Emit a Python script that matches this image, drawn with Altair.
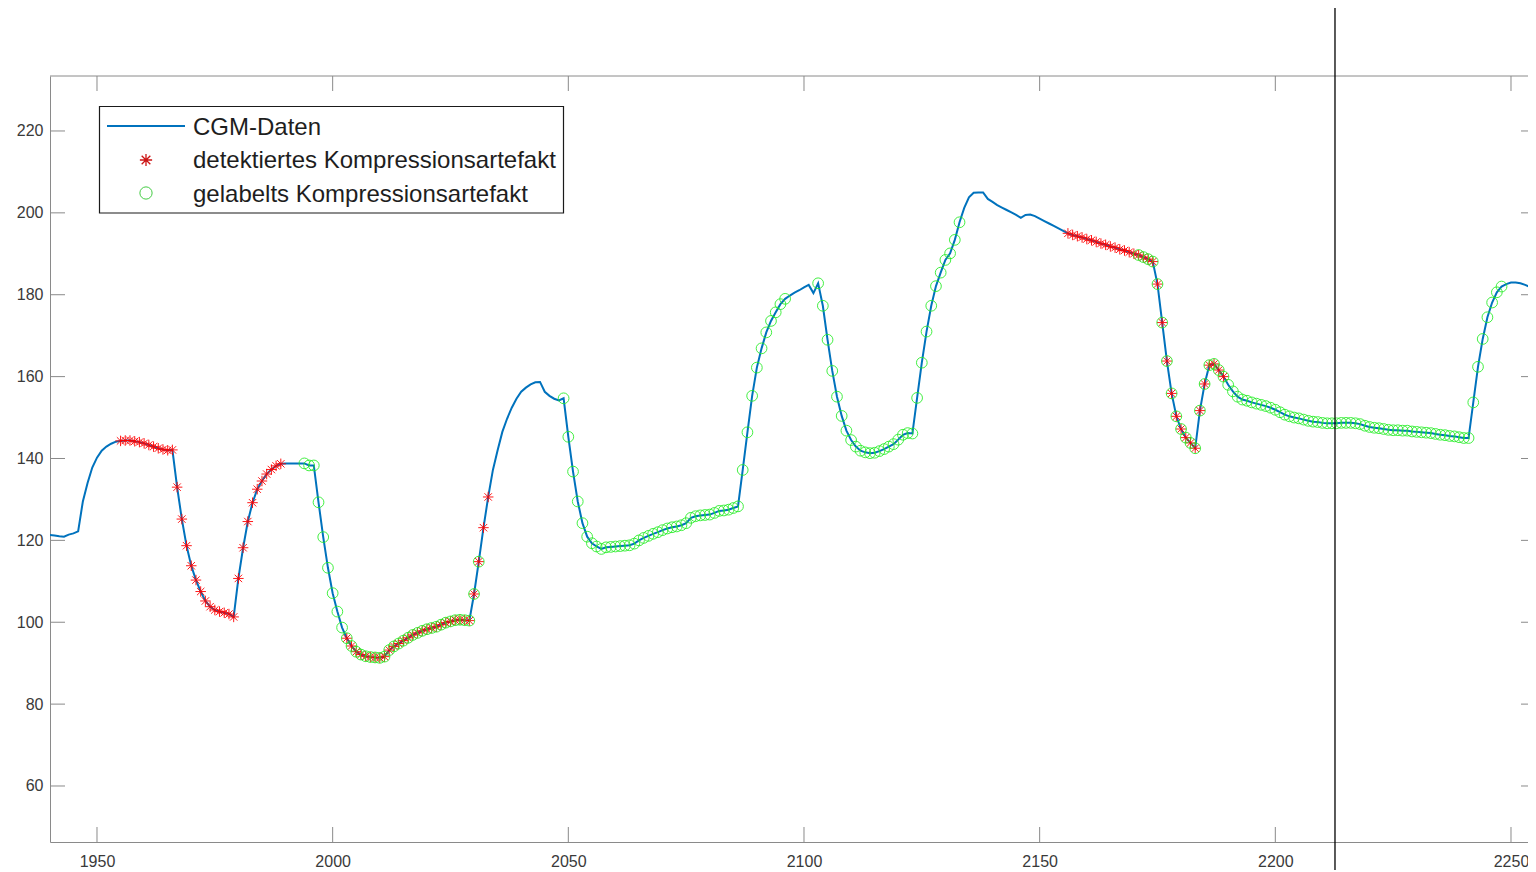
import altair as alt
import pandas as pd

# ---------------- data ----------------
cgm_x = list(range(1940, 2257))
cgm_y = [
    121.3, 121.2, 121.0, 120.9, 121.4, 121.7, 122.2, 129.5, 134.0, 137.8,   # 1940
    140.2, 141.9, 142.9, 143.6, 144.1, 144.3, 144.4, 144.4, 144.2, 144.0,   # 1950
    143.7, 143.3, 142.9, 142.5, 142.2, 142.0, 142.1, 133.0, 125.2, 118.7,   # 1960
    113.8, 110.3, 107.5, 105.2, 103.8, 103.0, 102.6, 102.3, 102.0, 101.3,   # 1970
    110.7, 118.2, 124.6, 129.2, 132.5, 134.5, 136.2, 137.3, 138.2, 138.7,   # 1980
    138.8, 138.8, 138.8, 138.8, 138.8, 138.3, 138.3, 129.3, 120.8, 113.3,   # 1990
    107.1, 102.6, 98.7, 96.1, 94.2, 92.8, 92.1, 91.7, 91.5, 91.4,           # 2000
    91.3, 91.6, 93.2, 94.1, 94.8, 95.5, 96.2, 96.9, 97.4, 97.9,             # 2010
    98.3, 98.6, 98.9, 99.4, 99.9, 100.2, 100.5, 100.6, 100.5, 100.4,        # 2020
    106.9, 114.8, 123.1, 130.6, 137.2, 142.0, 146.5, 149.7, 152.4, 154.6,   # 2030
    156.3, 157.3, 158.1, 158.6, 158.7, 156.3, 155.3, 154.6, 154.2, 154.7,   # 2040
    145.3, 136.8, 129.5, 124.2, 120.9, 119.3, 118.5, 117.9, 118.3, 118.4,   # 2050
    118.5, 118.6, 118.7, 118.8, 119.2, 120.0, 120.6, 121.1, 121.6, 122.0,   # 2060
    122.5, 122.9, 123.2, 123.4, 123.7, 124.2, 125.5, 125.9, 126.1, 126.2,   # 2070
    126.3, 126.7, 127.2, 127.3, 127.5, 127.9, 128.3, 137.2, 146.4, 155.3,   # 2080
    162.2, 166.9, 170.8, 173.6, 175.7, 177.7, 179.0, 179.8, 180.5, 181.1,   # 2090
    181.8, 182.4, 180.4, 182.8, 177.3, 169.0, 161.4, 155.1, 150.4, 146.8,   # 2100
    144.5, 142.9, 141.9, 141.5, 141.3, 141.4, 141.8, 142.3, 142.9, 143.5,   # 2110
    144.6, 145.8, 146.2, 146.1, 154.8, 163.4, 171.0, 177.3, 182.1, 185.4,   # 2120
    188.5, 190.1, 193.4, 197.7, 201.2, 203.8, 204.9, 205.0, 205.0, 203.4,   # 2130
    202.7, 201.9, 201.3, 200.7, 200.1, 199.5, 198.8, 199.5, 199.6, 199.2,   # 2140
    198.6, 198.0, 197.4, 196.8, 196.2, 195.6, 195.0, 194.6, 194.3, 194.0,   # 2150
    193.6, 193.3, 192.9, 192.5, 192.2, 191.8, 191.5, 191.1, 190.8, 190.4,   # 2160
    190.0, 189.7, 189.2, 188.7, 188.1, 182.6, 173.2, 163.8, 155.9, 150.3,   # 2170
    147.2, 145.1, 143.8, 142.5, 151.7, 158.2, 162.8, 163.1, 161.6, 160.0,   # 2180
    158.0, 156.4, 155.1, 154.4, 154.1, 153.7, 153.4, 153.1, 152.8, 152.4,   # 2190
    151.9, 151.3, 150.7, 150.3, 150.0, 149.8, 149.5, 149.2, 149.0, 148.9,   # 2200
    148.7, 148.6, 148.6, 148.6, 148.7, 148.7, 148.7, 148.6, 148.4, 148.0,   # 2210
    147.7, 147.5, 147.4, 147.2, 147.0, 146.9, 146.9, 146.8, 146.8, 146.6,   # 2220
    146.5, 146.4, 146.3, 146.2, 146.0, 145.8, 145.7, 145.5, 145.4, 145.2,   # 2230
    145.0, 145.0, 153.7, 162.4, 169.2, 174.5, 178.1, 180.6, 182.0, 182.6,   # 2240
    183.0, 183.0, 182.8, 182.4, 181.9, 181.4, 180.9,                        # 2250
]

# sample spans (inclusive) that carry markers
detected_spans = [(1955, 1989), (2003, 2033), (2156, 2189)]
labelled_spans = [(1994, 2031), (2049, 2096), (2103, 2133), (2171, 2248)]

x_ticks = [1950, 2000, 2050, 2100, 2150, 2200, 2250]
y_ticks = [60, 80, 100, 120, 140, 160, 180, 200, 220]
cursor_x = [2212.66]

legend_labels = ["CGM-Daten", "detektiertes Kompressionsartefakt", "gelabelts Kompressionsartefakt"]

# ---------------- styling ----------------
W, H = 1478, 766
FONT = "Liberation Sans"
AX_GRAY = "#8a8a8a"
LBL = "#3a3a3a"
BLUE = "#0072BD"
RED = "#ff0000"
GREEN = "#22ee22"
ASTER = "M0,-1L0,1M-1,0L1,0M-0.7071,-0.7071L0.7071,0.7071M-0.7071,0.7071L0.7071,-0.7071"


def in_spans(v, spans):
    return int(any(a <= v <= b for a, b in spans))


df = pd.DataFrame({"t": cgm_x, "g": cgm_y})
df["det"] = [in_spans(v, detected_spans) for v in cgm_x]
df["lab"] = [in_spans(v, labelled_spans) for v in cgm_x]

xs = alt.Scale(domain=[1940.03, 2253.61], nice=False, zero=False)
ys = alt.Scale(domain=[46.32, 233.43], nice=False, zero=False)

x_axis = alt.Axis(values=x_ticks, format="d", ticks=False, tickSize=0, grid=False, title=None,
                  labelFontSize=16, labelFont=FONT, labelColor=LBL, labelPadding=11,
                  domainColor=AX_GRAY, domainWidth=1)
y_axis = alt.Axis(values=y_ticks, format="d", ticks=False, tickSize=0, grid=False, title=None,
                  labelFontSize=16, labelFont=FONT, labelColor=LBL, labelPadding=7,
                  domainColor=AX_GRAY, domainWidth=1)

base = alt.Chart(df)
line = base.mark_line(color=BLUE, strokeWidth=2, clip=True).encode(
    x=alt.X("t:Q", scale=xs, axis=x_axis),
    y=alt.Y("g:Q", scale=ys, axis=y_axis),
)
aster = base.transform_filter("datum.det == 1").mark_point(
    shape=ASTER, size=110, strokeWidth=1, color=RED, filled=False, opacity=0.9, clip=True
).encode(x=alt.X("t:Q", scale=xs), y=alt.Y("g:Q", scale=ys))
circ = base.transform_filter("datum.lab == 1").mark_point(
    shape="circle", size=115, strokeWidth=1, color=GREEN, filled=False, opacity=0.85, clip=True
).encode(x=alt.X("t:Q", scale=xs), y=alt.Y("g:Q", scale=ys))

# inward tick marks (MATLAB style box)
xt = alt.Chart(pd.DataFrame({"t": x_ticks}))
yt = alt.Chart(pd.DataFrame({"g": y_ticks}))
TL = 15
xt_bot = xt.mark_rule(color=AX_GRAY, strokeWidth=1).encode(
    x=alt.X("t:Q", scale=xs), y=alt.value(H), y2=alt.value(H - TL))
xt_top = xt.mark_rule(color=AX_GRAY, strokeWidth=1).encode(
    x=alt.X("t:Q", scale=xs), y=alt.value(0), y2=alt.value(TL))
yt_left = yt.mark_rule(color=AX_GRAY, strokeWidth=1).encode(
    y=alt.Y("g:Q", scale=ys), x=alt.value(0), x2=alt.value(TL))
yt_right = yt.mark_rule(color=AX_GRAY, strokeWidth=1).encode(
    y=alt.Y("g:Q", scale=ys), x=alt.value(W - 7), x2=alt.value(W))

one = alt.Chart(pd.DataFrame({"k": [0]}))
top_border = one.mark_rule(color=AX_GRAY, strokeWidth=1).encode(
    x=alt.value(0), x2=alt.value(W), y=alt.value(0))

cursor = alt.Chart(pd.DataFrame({"t": cursor_x})).mark_rule(
    color="black", strokeWidth=1.3, clip=False
).encode(x=alt.X("t:Q", scale=xs), y=alt.value(-70), y2=alt.value(H + 30))

# legend (drawn by hand, MATLAB style)
leg_box = one.mark_rect(fill="white", stroke="#1a1a1a", strokeWidth=1.2).encode(
    x=alt.value(49.5), x2=alt.value(513.5), y=alt.value(30.5), y2=alt.value(137))
leg_line = one.mark_rule(color=BLUE, strokeWidth=2).encode(
    x=alt.value(57), x2=alt.value(135), y=alt.value(50))
leg_aster = one.mark_point(shape=ASTER, size=150, strokeWidth=1.3, color="#cc1515",
                           filled=False, opacity=1).encode(x=alt.value(96), y=alt.value(84))
leg_circ = one.mark_point(shape="circle", size=150, strokeWidth=1, color="#44cc44",
                          filled=False, opacity=1).encode(x=alt.value(96), y=alt.value(117))
leg_texts = [
    one.mark_text(text=lab, font=FONT, fontSize=24, color="#1e1e1e", align="left",
                  baseline="alphabetic").encode(x=alt.value(143), y=alt.value(py))
    for lab, py in zip(legend_labels, [58.5, 92.2, 125.6])
]

chart = alt.layer(
    line, aster, circ, xt_bot, xt_top, yt_left, yt_right, top_border, cursor,
    leg_box, leg_line, leg_aster, leg_circ, *leg_texts
).properties(
    width=W, height=H, autosize="none",
    padding={"left": 42, "top": 68, "right": 0, "bottom": 28},
    background="white",
).configure_view(strokeWidth=0)

chart.save("out.html", embed_options={"renderer": "svg", "actions": False})
